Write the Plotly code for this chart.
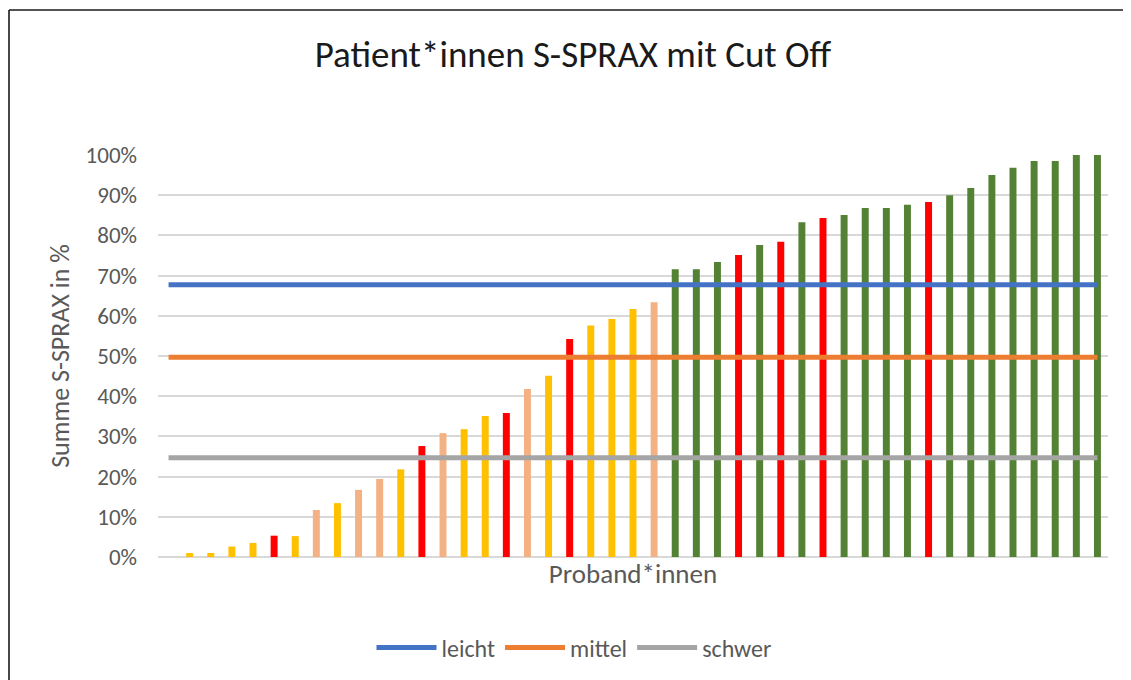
import plotly.graph_objects as go

# ---- data ----
proband = list(range(1, 45))
werte = [1.0, 1.0, 2.6, 3.5, 5.3, 5.2, 11.7, 13.4, 16.7, 19.4, 21.8, 27.6, 30.8, 31.8,
         35.1, 35.8, 41.8, 45.1, 54.2, 57.6, 59.2, 61.7, 63.4, 71.6, 71.6, 73.4, 75.1,
         77.6, 78.4, 83.3, 84.3, 85.1, 86.8, 86.8, 87.6, 88.3, 90.0, 91.8, 95.0, 96.8,
         98.5, 98.5, 100.0, 100.0]
gruppe = ["Y", "Y", "Y", "Y", "R", "Y", "S", "Y", "S", "S", "Y", "R", "S", "Y",
          "Y", "R", "S", "Y", "R", "Y", "Y", "Y", "S", "G", "G", "G", "R",
          "G", "R", "G", "R", "G", "G", "G", "G", "R", "G", "G", "G", "G",
          "G", "G", "G", "G"]
line_x = list(range(0, 45))
cutoff_names = ["leicht", "mittel", "schwer"]
cutoff_values = [67.7, 49.7, 24.7]
y_ticks = [0, 10, 20, 30, 40, 50, 60, 70, 80, 90, 100]

# ---- styles ----
gruppe_farbe = {"Y": "#FFC000", "R": "#FF0000", "S": "#F4B183", "G": "#548235"}
line_colors = ["#4472C4", "#ED7D31", "#A5A5A5"]
FONT = "Calibri, Carlito, Lato, sans-serif"
TXT = "#595959"

# page body has an 8px margin -> figure coordinates = screen - 8
OFF = 8
W, H = 1131 - OFF, 680 - OFF
L, T = 158 - OFF, 155 - OFF
R = W - (1108 - OFF)
B = H - (557 - OFF)

fig = go.Figure()
fig.add_trace(go.Bar(
    x=proband, y=[v / 100 for v in werte],
    marker=dict(color=[gruppe_farbe[g] for g in gruppe], line=dict(width=0)),
    width=0.33, showlegend=False, hoverinfo="y"))

for name, val, col in zip(cutoff_names, cutoff_values, line_colors):
    fig.add_trace(go.Scatter(
        x=line_x, y=[val / 100] * len(line_x), mode="lines", name=name,
        line=dict(color=col, width=5)))

pw, ph = W - L - R, H - T - B
def px2paper(sx, sy):
    return (sx - OFF - L) / pw, (H - B - (sy - OFF)) / ph

# chart-area frame: only top and left edges are visible in the picture
fx0, fy0 = px2paper(9, 10)
fx1, _ = px2paper(1140, 10)
_, fy1 = px2paper(9, 690)
frame = dict(color="#1a1a1a", width=1.6)
fig.add_shape(type="line", xref="paper", yref="paper", x0=fx0, y0=fy0, x1=fx1, y1=fy0, line=frame)
fig.add_shape(type="line", xref="paper", yref="paper", x0=fx0, y0=fy0, x1=fx0, y1=fy1, line=frame)

fig.update_layout(
    width=W, height=H,
    margin=dict(l=L, r=R, t=T, b=B),
    paper_bgcolor="white", plot_bgcolor="white",
    font=dict(family=FONT, color=TXT),
    title=dict(text="Patient*innen S-SPRAX mit Cut Off", xref="container", yref="container",
               x=(573 - OFF) / W, y=1 - (54 - OFF) / H, xanchor="center", yanchor="middle",
               font=dict(family=FONT, size=37, color="#1a1a1a")),
    legend=dict(orientation="h", xref="container", yref="container",
                x=(574 - OFF) / W, y=1 - (648 - OFF) / H, xanchor="center", yanchor="middle",
                font=dict(family=FONT, size=24, color=TXT), itemwidth=60,
                traceorder="normal"),
    xaxis=dict(range=[-0.5, 44.5], showticklabels=False, showgrid=False, zeroline=False,
               showline=False, ticks="",
               title=dict(text="Proband*innen", standoff=7,
                          font=dict(family=FONT, size=27, color=TXT))),
    yaxis=dict(range=[0, 1.0], tickvals=[v / 100 for v in y_ticks],
               ticktext=[f"{v}%" for v in y_ticks],
               showgrid=True, gridcolor="#D9D9D9", gridwidth=1.5,
               zeroline=True, zerolinecolor="#D9D9D9", zerolinewidth=1.5,
               showline=False, ticks="", ticklabelstandoff=20,
               tickfont=dict(family=FONT, size=23, color=TXT),
               title=dict(text="Summe S-SPRAX in %", standoff=8,
                          font=dict(family=FONT, size=26, color=TXT))),
)

fig.write_html("out.html")
